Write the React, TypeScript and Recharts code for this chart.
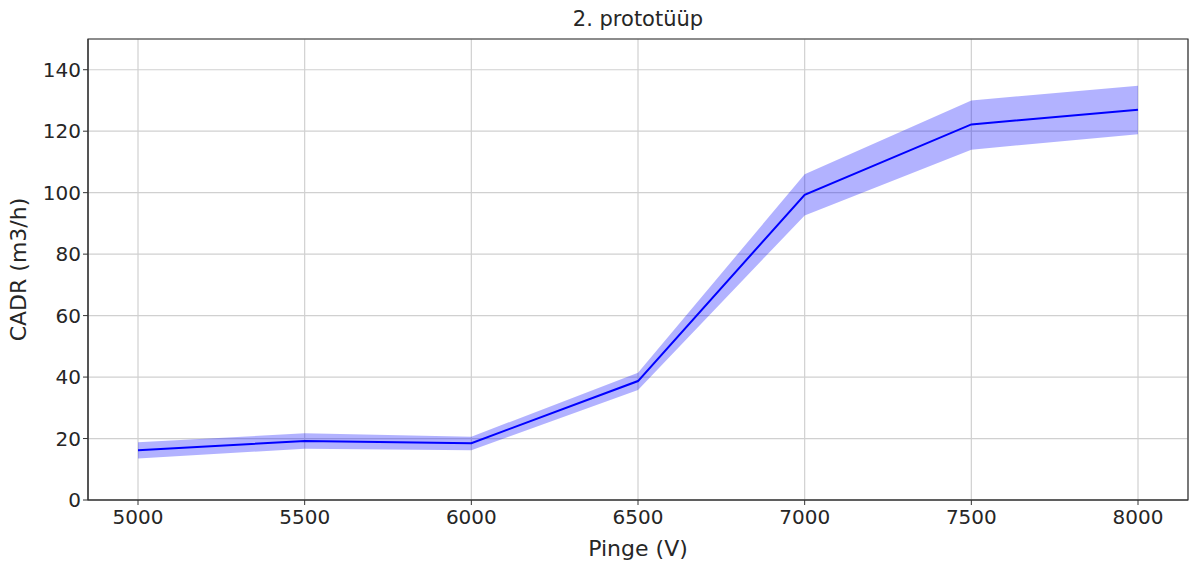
import React from 'react';
import {
  ComposedChart,
  Area,
  Line,
  XAxis,
  YAxis,
  CartesianGrid,
  ReferenceArea,
  Label,
} from 'recharts';

// Pinge (V) ja CADR (m3/h) – keskmine koos hajuvusega
const voltages = [5000, 5500, 6000, 6500, 7000, 7500, 8000];
const cadrMean = [16.2, 19.2, 18.5, 38.7, 99.3, 122.2, 127.0];
const cadrLow = [13.5, 16.7, 16.2, 35.8, 92.6, 114.0, 119.0];
const cadrHigh = [18.8, 21.7, 20.6, 41.4, 106.0, 130.0, 134.8];

const xTicks = [5000, 5500, 6000, 6500, 7000, 7500, 8000];
const yTicks = [0, 20, 40, 60, 80, 100, 120, 140];

const data = voltages.map((v, i) => ({
  v,
  mean: cadrMean[i],
  band: [cadrLow[i], cadrHigh[i]],
}));

const FONT = '"DejaVu Sans", sans-serif';
const TEXT = '#262626';

export default function App() {
  return (
    <div style={{ position: 'absolute', left: 0, top: 0, width: 1192, height: 562, background: '#fff' }}>
      <div
        style={{
          position: 'absolute',
          left: 88,
          width: 1100,
          top: 7,
          textAlign: 'center',
          fontFamily: FONT,
          fontSize: 21,
          color: TEXT,
        }}
      >
        2. prototüüp
      </div>
      <ComposedChart
        width={1192}
        height={562}
        data={data}
        margin={{ top: 39, right: 4, left: 0, bottom: 0 }}
      >
        <CartesianGrid stroke="#d0d0d0" strokeWidth={1.2} />
        <XAxis
          dataKey="v"
          type="number"
          domain={[4850, 8150]}
          ticks={xTicks}
          height={62}
          stroke="#333"
          tickSize={5}
          tick={{ fill: TEXT, fontSize: 20, fontFamily: FONT, dy: 3 }}
        >
          <Label value="Pinge (V)" position="insideBottom" offset={6} fill={TEXT} fontSize={22} fontFamily={FONT} />
        </XAxis>
        <YAxis
          type="number"
          domain={[0, 150]}
          ticks={yTicks}
          width={88}
          stroke="#333"
          tickSize={5}
          tick={{ fill: TEXT, fontSize: 20, fontFamily: FONT }}
        >
          <Label
            value="CADR (m3/h)"
            angle={-90}
            position="insideLeft"
            offset={18}
            style={{ textAnchor: 'middle' }}
            fill={TEXT}
            fontSize={22}
            fontFamily={FONT}
          />
        </YAxis>
        <Area
          dataKey="band"
          type="linear"
          stroke="none"
          fill="#0000ff"
          fillOpacity={0.3}
          isAnimationActive={false}
          activeDot={false}
        />
        <Line
          dataKey="mean"
          type="linear"
          stroke="#0000ff"
          strokeWidth={2}
          dot={false}
          activeDot={false}
          isAnimationActive={false}
        />
        <ReferenceArea x1={4850} x2={8150} y1={0} y2={150} fill="none" stroke="#333" strokeWidth={1.2} />
      </ComposedChart>
    </div>
  );
}
